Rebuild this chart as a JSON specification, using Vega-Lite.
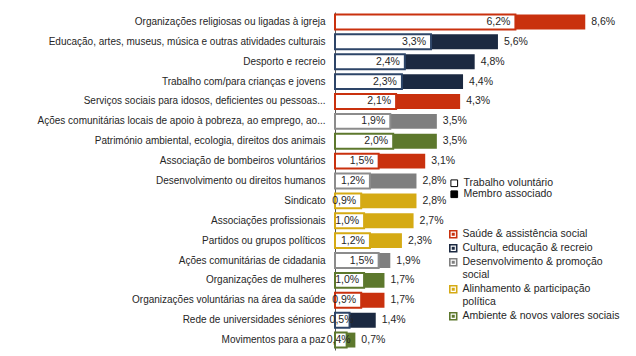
{
  "$schema": "https://vega.github.io/schema/vega-lite/v6.json",
  "width": 291,
  "height": 338,
  "autosize": {"type": "none"},
  "padding": {"left": 335, "top": 12, "right": 10, "bottom": 6},
  "background": "white",
  "config": {
    "view": {"stroke": null},
    "font": "Liberation Sans",
    "locale": {"number": {"decimal": ",", "thousands": ".", "grouping": [3], "currency": ["", " €"]}}
  },
  "data": {
    "values": [
      {"categoria": "Organizações religiosas ou ligadas à igreja", "grupo": "Saúde & assistência social", "voluntario": 0.062, "membro": 0.086},
      {"categoria": "Educação, artes, museus, música e outras atividades culturais", "grupo": "Cultura, educação & recreio", "voluntario": 0.033, "membro": 0.056},
      {"categoria": "Desporto e recreio", "grupo": "Cultura, educação & recreio", "voluntario": 0.024, "membro": 0.048},
      {"categoria": "Trabalho com/para crianças e jovens", "grupo": "Cultura, educação & recreio", "voluntario": 0.023, "membro": 0.044},
      {"categoria": "Serviços sociais para idosos, deficientes ou pessoas...", "grupo": "Saúde & assistência social", "voluntario": 0.021, "membro": 0.043},
      {"categoria": "Ações comunitárias locais de apoio à pobreza, ao emprego, ao...", "grupo": "Desenvolvimento & promoção social", "voluntario": 0.019, "membro": 0.035},
      {"categoria": "Património ambiental, ecologia, direitos dos animais", "grupo": "Ambiente & novos valores sociais", "voluntario": 0.020, "membro": 0.035},
      {"categoria": "Associação de bombeiros voluntários", "grupo": "Saúde & assistência social", "voluntario": 0.015, "membro": 0.031},
      {"categoria": "Desenvolvimento ou direitos humanos", "grupo": "Desenvolvimento & promoção social", "voluntario": 0.012, "membro": 0.028},
      {"categoria": "Sindicato", "grupo": "Alinhamento & participação política", "voluntario": 0.009, "membro": 0.028},
      {"categoria": "Associações profissionais", "grupo": "Alinhamento & participação política", "voluntario": 0.010, "membro": 0.027},
      {"categoria": "Partidos ou grupos políticos", "grupo": "Alinhamento & participação política", "voluntario": 0.012, "membro": 0.023},
      {"categoria": "Ações comunitárias de cidadania", "grupo": "Desenvolvimento & promoção social", "voluntario": 0.015, "membro": 0.019},
      {"categoria": "Organizações de mulheres", "grupo": "Ambiente & novos valores sociais", "voluntario": 0.010, "membro": 0.017},
      {"categoria": "Organizações voluntárias na área da saúde", "grupo": "Saúde & assistência social", "voluntario": 0.009, "membro": 0.017},
      {"categoria": "Rede de universidades séniores", "grupo": "Cultura, educação & recreio", "voluntario": 0.005, "membro": 0.014},
      {"categoria": "Movimentos para a paz", "grupo": "Ambiente & novos valores sociais", "voluntario": 0.004, "membro": 0.007}
    ]
  },
  "encoding": {
    "y": {
      "field": "categoria",
      "type": "nominal",
      "sort": null,
      "scale": {"paddingInner": 0.25, "paddingOuter": 0.125},
      "axis": {
        "title": null,
        "ticks": false,
        "domain": true,
        "domainColor": "#595959",
        "domainWidth": 1,
        "labelPadding": 10,
        "labelFontSize": 10,
        "labelColor": "#262626",
        "labelLimit": 400
      }
    }
  },
  "layer": [
    {
      "mark": {"type": "bar"},
      "encoding": {
        "x": {"field": "membro", "type": "quantitative", "scale": {"domain": [0, 0.1], "nice": false}, "axis": null},
        "color": {
          "field": "grupo",
          "type": "nominal",
          "scale": {
            "domain": ["Saúde & assistência social", "Cultura, educação & recreio", "Desenvolvimento & promoção social", "Alinhamento & participação política", "Ambiente & novos valores sociais"],
            "range": ["#C9310E", "#1B2941", "#7F7F7F", "#D5AA14", "#5D782D"]
          },
          "legend": {
            "title": null,
            "orient": "none",
            "legendX": 113,
            "legendY": 217,
            "symbolType": "M-1,-1H1V1H-1Z M-0.62,-0.62V0.62H0.62V-0.62Z M-0.36,-0.36H0.36V0.36H-0.36Z",
            "symbolSize": 72,
            "symbolStrokeWidth": 0,
            "labelFontSize": 10.5,
            "labelColor": "#262626",
            "labelBaseline": "middle",
            "labelOffset": 4,
            "rowPadding": 3,
            "labelExpr": "datum.label == 'Desenvolvimento & promoção social' ? ['Desenvolvimento & promoção', 'social'] : datum.label == 'Alinhamento & participação política' ? ['Alinhamento & participação', 'política'] : datum.label"
          }
        }
      }
    },
    {
      "mark": {"type": "bar", "strokeWidth": 2},
      "encoding": {
        "x": {"field": "voluntario", "type": "quantitative"},
        "stroke": {
          "field": "grupo",
          "type": "nominal",
          "scale": {
            "domain": ["Saúde & assistência social", "Cultura, educação & recreio", "Desenvolvimento & promoção social", "Alinhamento & participação política", "Ambiente & novos valores sociais"],
            "range": ["#C9310E", "#2E4568", "#8C8C8C", "#D5AA14", "#5D782D"]
          },
          "legend": null
        },
        "fill": {
          "datum": "Trabalho voluntário",
          "scale": {"domain": ["Trabalho voluntário", "Membro associado"], "range": ["white", "black"]},
          "legend": {
            "title": null,
            "orient": "none",
            "legendX": 114,
            "legendY": 166,
            "symbolType": "square",
            "symbolSize": 45,
            "symbolStrokeColor": "black",
            "symbolStrokeWidth": 1,
            "labelFontSize": 10.5,
            "labelColor": "#262626",
            "rowPadding": -1.5
          }
        }
      }
    },
    {
      "mark": {"type": "text", "align": "right", "dx": {"expr": "datum.voluntario < 0.006 ? 4 : -5"}, "fontSize": 10.5, "color": "#262626"},
      "encoding": {
        "x": {"field": "voluntario", "type": "quantitative"},
        "text": {"field": "voluntario", "type": "quantitative", "format": ".1%"}
      }
    },
    {
      "mark": {"type": "text", "align": "left", "dx": 6, "fontSize": 10.5, "color": "#262626"},
      "encoding": {
        "x": {"field": "membro", "type": "quantitative"},
        "text": {"field": "membro", "type": "quantitative", "format": ".1%"}
      }
    }
  ]
}
